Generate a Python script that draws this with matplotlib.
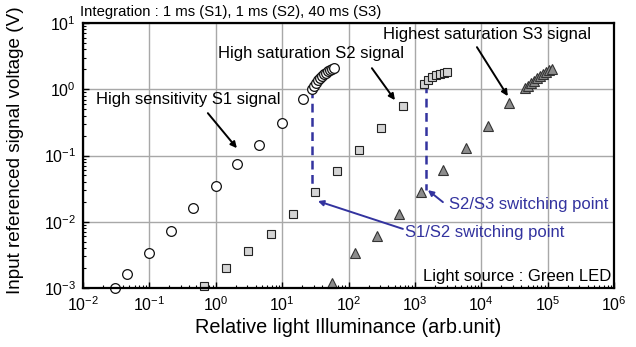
import matplotlib
matplotlib.use("Agg")
import matplotlib.pyplot as plt

plt.rcParams["font.family"] = ["Liberation Sans", "DejaVu Sans"]
plt.rcParams["mathtext.fontset"] = "custom"
plt.rcParams["mathtext.rm"] = "Liberation Sans"
plt.rcParams["mathtext.it"] = "Liberation Sans:italic"
plt.rcParams["mathtext.bf"] = "Liberation Sans:bold"

# S1: high sensitivity (circles)
s1_x = [0.030, 0.046, 0.098, 0.21, 0.46, 1.0, 2.1, 4.5, 10.0, 20.6, 28.0,
        30.1, 32.3, 34.6, 37.1, 39.7, 42.6, 45.7, 49.0, 52.5, 56.2, 60.3]
s1_y = [0.00101, 0.0016, 0.0034, 0.0072, 0.016, 0.035, 0.074, 0.145, 0.31, 0.71, 1.0,
        1.11, 1.24, 1.37, 1.47, 1.58, 1.69, 1.78, 1.88, 1.94, 2.01, 2.08]

# S2: high saturation (squares)
s2_x = [0.66, 1.42, 3.1, 6.8, 14.5, 31, 67, 144, 308, 660,
        1367, 1570, 1803, 2072, 2380, 2735, 3034]
s2_y = [0.00107, 0.0020, 0.0036, 0.0065, 0.013, 0.028, 0.058, 0.12, 0.26, 0.556,
        1.19, 1.37, 1.52, 1.63, 1.72, 1.78, 1.81]

# S3: highest saturation (triangles)
s3_x = [56, 125, 268, 575, 1230, 2650, 5860, 12600, 26000,
        45400, 50400, 55900, 62000, 68800, 76300, 84700, 94000, 104000, 116000]
s3_y = [0.0012, 0.0034, 0.006, 0.013, 0.028, 0.06, 0.13, 0.28, 0.62,
        1.04, 1.13, 1.24, 1.35, 1.47, 1.58, 1.69, 1.81, 1.94, 2.05]

# switching points (x, y_top, y_bottom)
sw12 = (28.0, 1.0, 0.025)
sw23 = (1466, 1.19, 0.030)

blue = "#33339f"

fig = plt.figure(figsize=(6.36, 3.47), dpi=100)
ax = fig.add_axes([0.1305, 0.170, 0.835, 0.7637])
ax.set_xscale("log")
ax.set_yscale("log")
ax.set_xlim(1e-2, 1e6)
ax.set_ylim(1e-3, 1e1)

ax.grid(True, which="major", color="#a8a8a8", lw=1.0, zorder=0)
for s in ax.spines.values():
    s.set_linewidth(1.6)
    s.set_zorder(5)

ax.tick_params(which="both", direction="in", top=False, right=False,
               labelsize=11.5, pad=5)
ax.tick_params(which="major", length=4, width=1.0)
ax.tick_params(which="minor", length=2.5, width=0.8)

ax.plot([sw12[0], sw12[0]], [sw12[1], sw12[2]], ls=(0, (3.5, 2.2)), color=blue, lw=1.8, zorder=2)
ax.plot([sw23[0], sw23[0]], [sw23[1], sw23[2]], ls=(0, (3.5, 2.2)), color=blue, lw=1.8, zorder=2)

ax.plot(s3_x, s3_y, ls="none", marker="^", ms=7, mfc="#8c8c8c", mec="#333333",
        mew=0.8, clip_on=False, zorder=3)
ax.plot(s2_x, s2_y, ls="none", marker="s", ms=6.2, mfc="#d4d4d4", mec="#222222",
        mew=0.8, clip_on=False, zorder=3)
ax.plot(s1_x, s1_y, ls="none", marker="o", ms=7, mfc="white", mec="#111111",
        mew=0.9, clip_on=False, zorder=4)

arrow_k = dict(arrowstyle="-|>", color="black", lw=1.4, mutation_scale=9,
               shrinkA=0, shrinkB=0)
ax.annotate("", xy=(2.08, 0.129), xytext=(0.76, 0.436), arrowprops=arrow_k)
ax.annotate("", xy=(500, 0.685), xytext=(225, 2.08), arrowprops=arrow_k)
ax.annotate("", xy=(25100, 0.787), xytext=(8600, 4.32), arrowprops=arrow_k)

ax.text(0.39, 0.71, "High sensitivity S1 signal", fontsize=12, ha="center", va="center")
ax.text(27.2, 3.5, "High saturation S2 signal", fontsize=12, ha="center", va="center")
ax.text(12100, 6.78, "Highest saturation S3 signal", fontsize=12, ha="center", va="center")

arrow_b = dict(arrowstyle="-|>", color=blue, lw=1.4, mutation_scale=8,
               shrinkA=0, shrinkB=0)
ax.annotate("", xy=(34.6, 0.0205), xytext=(659, 0.0078), arrowprops=arrow_b)
ax.annotate("", xy=(1570, 0.030), xytext=(2640, 0.0198), arrowprops=arrow_b)
ax.text(706, 0.0070, "S1/S2 switching point", fontsize=12, color=blue, ha="left", va="center")
ax.text(3250, 0.0185, "S2/S3 switching point", fontsize=12, color=blue, ha="left", va="center")

ax.text(0.994, 0.042, "Light source : Green LED", fontsize=12, ha="right", va="center",
        transform=ax.transAxes)

fig.text(0.126, 0.965, "Integration : 1 ms (S1), 1 ms (S2), 40 ms (S3)", fontsize=10.7,
         ha="left", va="center")

ax.set_xlabel("Relative light Illuminance (arb.unit)", fontsize=14.3, labelpad=3)
ax.set_ylabel("Input referenced signal voltage (V)", fontsize=13.6)
ax.yaxis.set_label_coords(-0.112, 0.52)

fig.savefig("out.png", dpi=100)
